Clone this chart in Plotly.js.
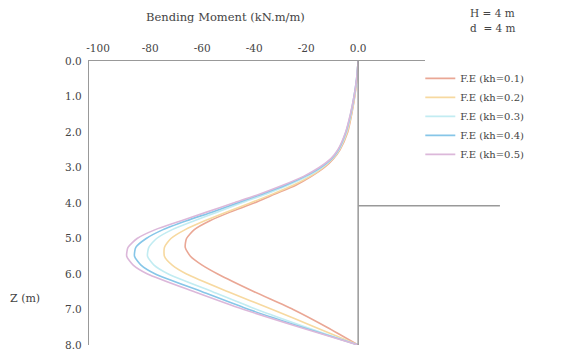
<!DOCTYPE html>
<html>
<head>
<meta charset="utf-8">
<script src="https://cdn.plot.ly/plotly-3.0.1.min.js"></script>
<style>html,body{margin:0;padding:0;background:#fff;}#chart{width:566px;height:354px;}</style>
</head>
<body>
<div id="chart"></div>
<script>
// Depth below top (m)
var depth = [0, 0.5, 1, 1.5, 2, 2.5, 2.75, 3, 3.25, 3.5, 3.75, 4, 4.25, 4.5, 4.75, 5, 5.25, 5.5, 5.75, 6, 6.5, 7, 7.5, 8];
// Bending moment (kN.m/m) for each seismic coefficient
var kh01 = [0, -0.5, -1.3, -2.5, -4.0, -7.0, -9.5, -13.0, -18.0, -24, -32, -40, -49, -57, -63, -66, -66.5, -64.5, -60, -54, -40, -25, -12, 0];
var kh02 = [0, -0.5, -1.4, -2.6, -4.2, -7.2, -9.8, -13.5, -18.5, -25, -33, -41.5, -50.5, -59, -66.5, -72, -74.5, -74.5, -71.5, -66, -50, -33, -16.5, 0];
var kh03 = [0, -0.6, -1.5, -2.8, -4.5, -7.4, -10.0, -14.0, -19.5, -27, -35.5, -45, -54, -63, -71.5, -77.5, -80.5, -81, -78.5, -73, -56, -39, -20, 0];
var kh04 = [0, -0.6, -1.6, -2.9, -4.7, -7.6, -10.2, -14.5, -20.5, -28, -37, -46.5, -56, -66, -75, -81.5, -85.5, -86, -83.5, -78, -60, -42, -21.5, 0];
var kh05 = [0, -0.6, -1.6, -3.0, -4.8, -7.8, -10.5, -15.0, -21.0, -29, -38, -48, -58, -68, -78, -85, -88.5, -89, -86.5, -81, -63, -44, -22.5, 0];
var seriesNames = ["F.E (kh=0.1)", "F.E (kh=0.2)", "F.E (kh=0.3)", "F.E (kh=0.4)", "F.E (kh=0.5)"];
var xTickVals = [-100, -80, -60, -40, -20, 0];
var xTickText = ["-100", "-80", "-60", "-40", "-20", "0.0"];
var yTickVals = [0, 1, 2, 3, 4, 5, 6, 7, 8];
var yTickText = ["0.0", "1.0", "2.0", "3.0", "4.0", "5.0", "6.0", "7.0", "8.0"];
var wallBottom = 8;
var groundDepth = 4.08;

var colors = ["#eaa795", "#f7d9a0", "#c2ecf2", "#86c6e8", "#dcb8da"];
var allSeries = [kh01, kh02, kh03, kh04, kh05];
var serif = "DejaVu Serif, Liberation Serif, serif";

var traces = allSeries.map(function (vals, i) {
  return {
    x: vals, y: depth, type: "scatter", mode: "lines",
    name: seriesNames[i],
    line: {color: colors[i], width: 1.6, shape: "spline", smoothing: 0.6}
  };
});

var layout = {
  width: 566, height: 354,
  margin: {l: 89, r: 141, t: 61, b: 9},
  paper_bgcolor: "#ffffff", plot_bgcolor: "#ffffff",
  font: {family: serif, size: 10, color: "#444"},
  showlegend: true,
  legend: {
    x: 0.986, y: 0.99, xanchor: "left", yanchor: "top",
    font: {family: serif, size: 10, color: "#444"},
    bgcolor: "rgba(0,0,0,0)", tracegroupgap: 0, itemwidth: 30
  },
  xaxis: {
    side: "top", range: [-103.5, 25.7], showgrid: false, zeroline: false,
    showline: true, linecolor: "#999", linewidth: 1.2,
    tickvals: xTickVals, ticktext: xTickText, ticks: "",
    ticklabelstandoff: 4,
    tickfont: {family: serif, size: 10.5, color: "#444"}
  },
  yaxis: {
    range: [8, 0], showgrid: false, zeroline: false,
    showline: true, linecolor: "#999", linewidth: 1.2,
    tickvals: yTickVals, ticktext: yTickText, ticks: "",
    ticklabelstandoff: 4,
    tickfont: {family: serif, size: 10.5, color: "#444"}
  },
  shapes: [
    {type: "line", xref: "x", yref: "y", x0: 0, x1: 0, y0: 0, y1: wallBottom,
     line: {color: "#999", width: 1.5}},
    {type: "line", xref: "paper", yref: "paper", x0: 0.8006, x1: 1.223,
     y0: 1 - groundDepth / 8, y1: 1 - groundDepth / 8,
     line: {color: "#999", width: 1.5}}
  ],
  annotations: [
    {text: "Bending Moment (kN.m/m)", xref: "paper", yref: "paper",
     x: (225 - 89) / 336, y: 1 + (61 - 17) / 284, xanchor: "center", yanchor: "middle",
     showarrow: false, font: {family: serif, size: 11.5, color: "#444"}},
    {text: "H = 4 m", xref: "paper", yref: "paper",
     x: (468 - 89) / 336, y: 1 + (61 - 13) / 284, xanchor: "left", yanchor: "middle",
     showarrow: false, font: {family: serif, size: 10.5, color: "#444"}},
    {text: "d  = 4 m", xref: "paper", yref: "paper",
     x: (468 - 89) / 336, y: 1 + (61 - 28) / 284, xanchor: "left", yanchor: "middle",
     showarrow: false, font: {family: serif, size: 10.5, color: "#444"}},
    {text: "Z (m)", xref: "paper", yref: "paper",
     x: (8 - 89) / 336, y: 1 - (298 - 61) / 284, xanchor: "left", yanchor: "middle",
     showarrow: false, font: {family: serif, size: 11, color: "#444"}}
  ]
};

Plotly.newPlot("chart", traces, layout, {displayModeBar: false, staticPlot: true});
</script>
</body>
</html>
